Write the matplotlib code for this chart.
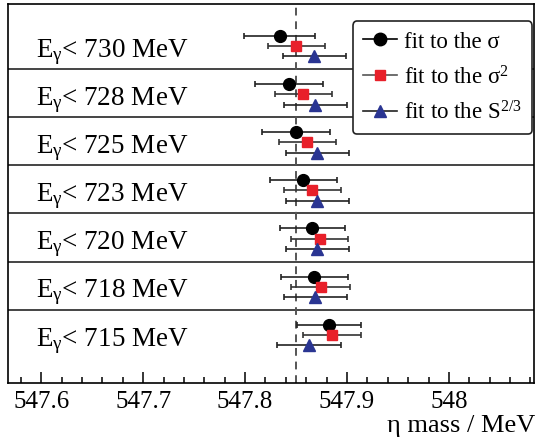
import matplotlib
matplotlib.use("Agg")
import matplotlib.pyplot as plt
from matplotlib.lines import Line2D
from matplotlib.ticker import MultipleLocator, FixedLocator
import matplotlib.transforms as mtransforms

plt.rcParams['font.family'] = ['Liberation Serif', 'DejaVu Serif']
plt.rcParams['mathtext.fontset'] = 'custom'
plt.rcParams['mathtext.rm'] = 'Liberation Serif'
plt.rcParams['mathtext.it'] = 'Liberation Serif:italic'
plt.rcParams['mathtext.default'] = 'rm'

# ---- data (top row first) ----
energies = [730, 728, 725, 723, 720, 718, 715]
sigma = [547.834, 547.843, 547.850, 547.857, 547.866, 547.868, 547.882]
sigma_err = [0.035, 0.0335, 0.033, 0.033, 0.032, 0.0325, 0.0315]
sigma2 = [547.850, 547.857, 547.861, 547.866, 547.873, 547.874, 547.885]
sigma2_err = [0.028, 0.028, 0.028, 0.028, 0.028, 0.0285, 0.0285]
s23 = [547.868, 547.869, 547.871, 547.871, 547.871, 547.869, 547.863]
s23_err = [0.031, 0.031, 0.031, 0.031, 0.031, 0.031, 0.0315]
reference_mass = 547.85
xticks = [547.6, 547.7, 547.8, 547.9, 548.0]
xticklabels = ["547.6", "547.7", "547.8", "547.9", "548"]
legend_labels = ["fit to the σ", "fit to the σ$^{2}$", "fit to the S$^{2/3}$"]

W, H = 536, 439
fig = plt.figure(figsize=(W / 100, H / 100), dpi=100)
ax = fig.add_axes([8 / W, 1 - 384 / H, 526 / W, 379 / H])

n = len(energies)
rows = [n - 1 - i for i in range(n)]  # row index from bottom

red = '#e8202a'
blue = '#2a3592'

ax.errorbar(sigma, [r + 0.69 for r in rows], xerr=sigma_err, fmt='o', color='black',
            ecolor='#222222', elinewidth=1.2, capsize=2.2, capthick=1.2, markersize=8.5, zorder=5)
ax.errorbar(sigma2, [r + 0.48 for r in rows], xerr=sigma2_err, fmt='s', color=red,
            ecolor='#333333', elinewidth=1.2, capsize=2.2, capthick=1.2, markersize=7, zorder=5)
ax.errorbar(s23, [r + 0.26 for r in rows], xerr=s23_err, fmt='^', color=blue,
            ecolor='#222222', elinewidth=1.2, capsize=2.2, capthick=1.2, markersize=8, zorder=5)

for k in range(1, n):
    ax.axhline(k, color='#444444', lw=1.4, zorder=1)

ax.axvline(reference_mass, color='#555555', lw=1.4, ls=(0, (4, 3)), zorder=2)

trans = mtransforms.blended_transform_factory(ax.transAxes, ax.transData)
for e, r in zip(energies, rows):
    ax.text(0.053, r + 0.5 - 0.12, "E$_{γ}$< %d MeV" % e, transform=trans,
            fontsize=19.5, va='center', ha='left')

ax.set_xlim(547.5673, 548.0835)
ax.set_ylim(-0.52, 7.35)
ax.xaxis.set_major_locator(FixedLocator(xticks))
ax.set_xticklabels(xticklabels)
ax.xaxis.set_minor_locator(MultipleLocator(0.02))
ax.tick_params(axis='x', which='major', direction='in', length=8, width=1.1, labelsize=18, pad=5)
ax.tick_params(axis='x', which='minor', direction='in', length=4.3, width=1.1)
ax.set_yticks([])
for s in ax.spines.values():
    s.set_linewidth(1.2)

fig.text(535 / W, 1 - 431.7 / H, "η mass / MeV", fontsize=19, ha='right', va='baseline')

handles = [
    Line2D([], [], color='black', marker='o', markersize=9, lw=1.2),
    Line2D([], [], color='#555555', marker='s', markersize=7.5, markerfacecolor=red, markeredgecolor=red, lw=1.2),
    Line2D([], [], color='#222222', marker='^', markersize=8.5, markerfacecolor=blue, markeredgecolor=blue, lw=1.2),
]
leg = ax.legend(handles, legend_labels, loc='upper left',
                bbox_to_anchor=(352.7 / W, 1 - 22 / H), bbox_transform=fig.transFigure,
                fontsize=16.5, frameon=True, fancybox=True, edgecolor='#222222',
                handlelength=1.5, handletextpad=0.3, labelspacing=0.55, borderpad=0.45,
                borderaxespad=0)
leg.get_frame().set_linewidth(1.2)
leg.get_frame().set_alpha(1)

fig.savefig("out.png", dpi=100)
